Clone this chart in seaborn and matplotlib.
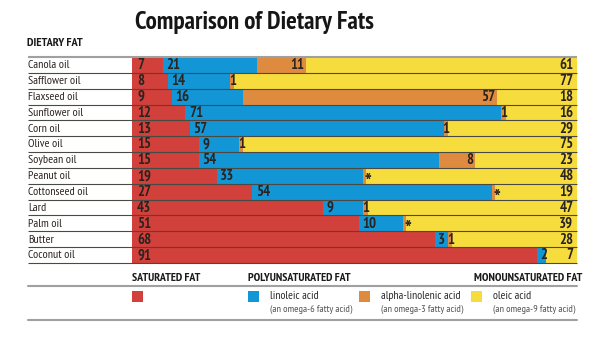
import matplotlib
matplotlib.use("Agg")
import matplotlib.pyplot as plt
from matplotlib.patches import Rectangle
import pandas as pd
import seaborn as sns

# ---- data (percent of total fat) ----
oils = ["Canola oil", "Safflower oil", "Flaxseed oil", "Sunflower oil", "Corn oil",
        "Olive oil", "Soybean oil", "Peanut oil", "Cottonseed oil", "Lard",
        "Palm oil", "Butter", "Coconut oil"]
saturated = [7, 8, 9, 12, 13, 15, 15, 19, 27, 43, 51, 68, 91]
linoleic = [21, 14, 16, 71, 57, 9, 54, 33, 54, 9, 10, 3, 2]
# trace amounts (shown as "*") are given a tiny width
alpha_linolenic = [11, 1, 57, 1, 1, 1, 8, 0.5, 0.5, 1, 0.5, 1, 0]
alpha_labels = ["11", "1", "57", "1", "1", "1", "8", "*", "*", "1", "*", "1", ""]
oleic = [61, 77, 18, 16, 29, 75, 23, 48, 19, 47, 39, 28, 7]

RED = "#d1403a"
BLUE = "#1296d6"
ORANGE = "#df8b3f"
YELLOW = "#f7dc3e"
TXT = "#2a2320"

FONT = "PT Sans Narrow"

sns.set_theme(style="white")
plt.rcParams["font.family"] = [FONT, "DejaVu Sans"]

df = pd.DataFrame({"oil": oils, "sat": saturated, "lin": linoleic,
                   "ala": alpha_linolenic, "ole": oleic})
df["c_sat"] = df["sat"]
df["c_lin"] = df["c_sat"] + df["lin"]
df["c_ala"] = df["c_lin"] + df["ala"]
df["c_ole"] = df["c_ala"] + df["ole"]

W, H = 605, 339
fig = plt.figure(figsize=(W / 100, H / 100), dpi=100)
fig.patch.set_facecolor("white")

x0, x1, y0, y1 = 132, 577, 57, 263
ax = fig.add_axes([x0 / W, 1 - y1 / H, (x1 - x0) / W, (y1 - y0) / H])

# stacked bars: draw cumulative totals from the outermost layer inwards
for col, colr in [("c_ole", YELLOW), ("c_ala", ORANGE), ("c_lin", BLUE), ("c_sat", RED)]:
    sns.barplot(data=df, x=col, y="oil", color=colr, width=1.0, saturation=1,
                orient="h", ax=ax, edgecolor="none", linewidth=0)

ax.set_xlim(0, 100)
ax.set_ylim(len(oils) - 0.5, -0.5)
ax.axis("off")

# row separators, extended across the label column
ytr = ax.get_yaxis_transform()
left_ax = (28 - x0) / (x1 - x0)
for i in range(len(oils) + 1):
    yy = i - 0.5
    c = "#a0a0a0" if i == 0 else "#4a4a44"
    lw = 1.5 if i == 0 else 0.8
    ax.plot([left_ax, 1], [yy, yy], color=c, lw=lw, transform=ytr, clip_on=False,
            zorder=5, solid_capstyle="butt")

# row labels
for i, name in enumerate(oils):
    ax.text(left_ax, i + 0.02, name, transform=ytr, ha="left", va="center",
            fontsize=8.6, color=TXT)

# value labels
px = 100 / (x1 - x0)  # data units per pixel
num_kw = dict(va="center", fontsize=10.6, fontweight="bold", color=TXT, zorder=6)
for i in range(len(oils)):
    s, l, a, o = saturated[i], linoleic[i], alpha_linolenic[i], oleic[i]
    ax.text(5 * px, i + 0.02, str(s), ha="left", **num_kw)
    ax.text(s + 3.5 * px, i + 0.02, str(l), ha="left", **num_kw)
    lab = alpha_labels[i]
    if lab:
        end = s + l + a
        if lab == "*":
            ax.text(end - a / 2 + 3.5 * px, i + 0.45, lab, ha="center", va="center",
                    fontsize=15, fontweight="bold", color=TXT, zorder=6)
        elif a <= 1:
            ax.text(end - a / 2 + 0.5 * px, i + 0.02, lab, ha="center", **num_kw)
        else:
            ax.text(end - 1.5 * px, i + 0.02, lab, ha="right", **num_kw)
    ax.text(100 - 3.5 * px, i + 0.02, str(o), ha="right", **num_kw)

# titles
fig.text(135 / W, 1 - 23 / H, "Comparison of Dietary Fats", ha="left", va="center",
         fontsize=18, fontweight="bold", color="#161616")
fig.text(27 / W, 1 - 43 / H, "DIETARY FAT", ha="left", va="center",
         fontsize=8.8, fontweight="bold", color="#1a1a1a")

# legend block
def fy(y):
    return 1 - y / H

for yl in (285.5, 320):
    fig.add_artist(plt.Line2D([28 / W, 577 / W], [fy(yl), fy(yl)], color="#a0a0a0",
                              lw=1.5, transform=fig.transFigure))

head_kw = dict(va="center", fontsize=8.6, fontweight="bold", color="#1a1a1a")
fig.text(132 / W, fy(278), "SATURATED FAT", ha="left", **head_kw)
fig.text(248 / W, fy(278), "POLYUNSATURATED FAT", ha="left", **head_kw)
fig.text(582 / W, fy(278), "MONOUNSATURATED FAT", ha="right", **head_kw)

swatches = [(132, RED, "", ""),
            (248, BLUE, "linoleic acid", "(an omega-6 fatty acid)"),
            (359, ORANGE, "alpha-linolenic acid", "(an omega-3 fatty acid)"),
            (471, YELLOW, "oleic acid", "(an omega-9 fatty acid)")]
for sx, colr, name, sub in swatches:
    fig.add_artist(Rectangle((sx / W, fy(302)), 10.5 / W, 11 / H, facecolor=colr,
                             edgecolor="none", transform=fig.transFigure))
    if name:
        fig.text((sx + 22) / W, fy(296), name, ha="left", va="center",
                 fontsize=8.4, color="#2a2a2a")
        fig.text((sx + 22) / W, fy(309), sub, ha="left", va="center",
                 fontsize=7.4, color="#555555")

fig.savefig("out.png", dpi=100)
